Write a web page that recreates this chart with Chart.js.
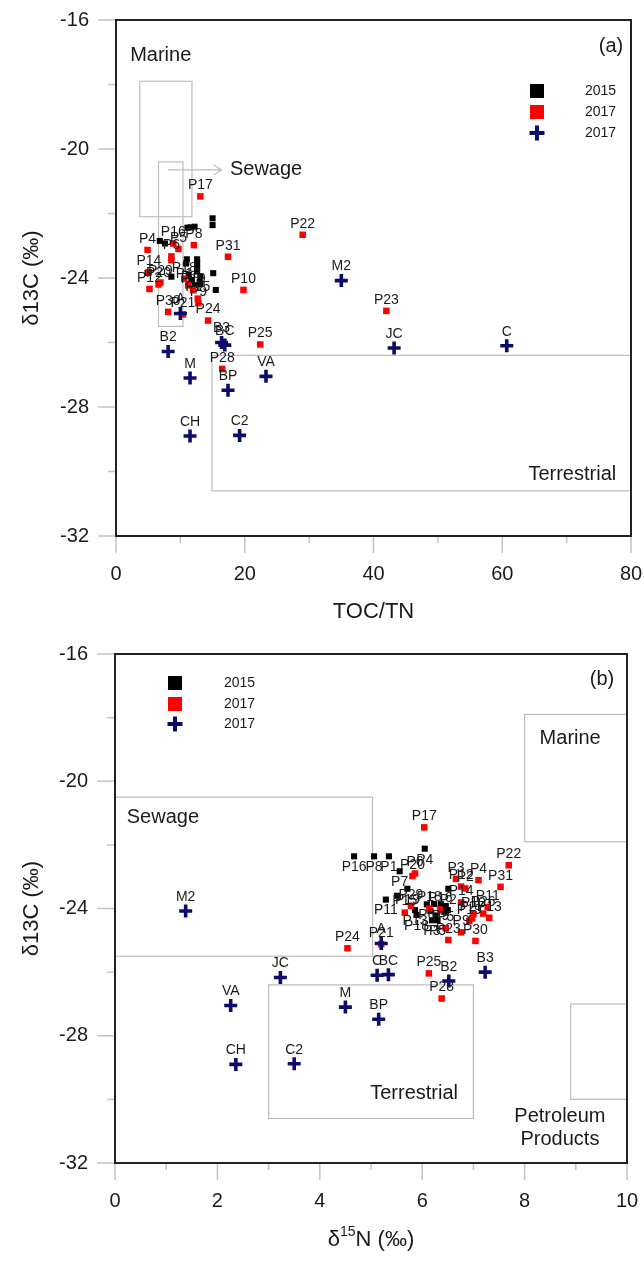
<!DOCTYPE html>
<html lang="en">
  <head>
    <meta charset="utf-8" />
    <title>Sediment δ13C sources</title>
    <style>
      body { margin: 0; background: #fff; }
      canvas { display: block; }
    </style>
  </head>
  <body>
    <canvas id="chart-a" width="644" height="630"></canvas>
    <canvas id="chart-b" width="644" height="632"></canvas>

    <script src="https://cdn.jsdelivr.net/npm/chart.js@4.4.0/dist/chart.umd.min.js"></script>
    <script>
      // tick labels
      const yTicks = [-16, -20, -24, -28, -32];
      const xTicksA = [0, 20, 40, 60, 80];
      const xTicksB = [0, 2, 4, 6, 8, 10];

      // (a) 2015 sediments: TOC/TN and d13C
      const sed2015TocTn = [11.1, 11.6, 12.2, 15.0, 15.0, 6.8, 7.6, 11.0, 12.6, 12.6, 12.6, 12.6, 15.1, 4.9, 8.6, 11.3, 11.7, 13.0, 15.5, 13.1, 10.9, 12.2, 13.1];
      const sed2015D13cA = [-22.44, -22.43, -22.41, -22.15, -22.36, -22.85, -22.93, -23.42, -23.42, -23.55, -23.68, -23.8, -23.85, -23.84, -23.96, -23.9, -24.06, -24.12, -24.37, -23.95, -23.55, -24.22, -24.19];

      // (a) 2017 sediments
      const sed2017NamesA = ["P17", "P22", "P16", "P8", "P5", "P4", "P31", "P6", "", "P14", "P29", "P20", "P12", "P18", "P13", "P19", "P15", "P9", "P10", "P30", "P21", "P24", "P23", "P25", "P28"];
      const sed2017TocTn = [13.1, 29.0, 8.9, 12.1, 9.7, 4.9, 17.4, 8.6, 8.6, 5.1, 6.9, 6.6, 5.2, 10.6, 11.2, 12.0, 12.7, 12.8, 19.8, 8.1, 10.4, 14.3, 42.0, 22.4, 16.5];
      const sed2017D13cA = [-21.47, -22.66, -22.93, -22.98, -23.1, -23.13, -23.34, -23.33, -23.45, -23.82, -24.14, -24.2, -24.34, -24.02, -24.23, -24.38, -24.64, -24.78, -24.37, -25.05, -25.13, -25.32, -25.02, -26.06, -26.82];

      // (b) 2015 sediments: d15N and d13C
      const sed2015NamesB = ["P16", "P8", "P1", "P4", "P7", "P19", "", "P11", "P2", "P6", "", "P9", "", "P13", "P18", "", "P5", "", "", "P3", ""];
      const sed2015D15n = [4.67, 5.06, 5.35, 6.05, 5.56, 5.71, 5.51, 5.29, 6.51, 6.09, 6.23, 6.36, 6.46, 5.86, 5.89, 6.26, 6.3, 6.43, 6.16, 6.19, 6.5];
      const sed2015D13cB = [-22.36, -22.36, -22.36, -22.12, -22.83, -23.38, -23.6, -23.72, -23.38, -23.87, -23.86, -23.88, -23.92, -24.05, -24.2, -24.22, -24.37, -24.1, -24.08, -24.37, -24.05];

      // (b) 2017 sediments
      const sed2017NamesB = ["P17", "P22", "P31", "P4", "P3", "P12", "P2", "P6", "P20", "P14", "P11", "P10", "P26", "P13", "P27", "P19", "P15", "P29", "P18", "P16", "P5", "P9", "P23", "P30", "P24", "P21", "P25", "P28"];
      const sed2017D15n = [6.04, 7.69, 7.53, 7.1, 6.66, 6.76, 6.84, 5.86, 5.81, 6.76, 7.28, 7.0, 7.19, 7.31, 6.97, 6.92, 5.66, 5.78, 6.14, 6.35, 6.46, 6.76, 6.51, 7.04, 4.54, 5.2, 6.13, 6.38];
      const sed2017D13cB = [-21.45, -22.64, -23.32, -23.11, -23.07, -23.31, -23.37, -22.9, -22.98, -23.81, -23.96, -24.18, -24.16, -24.29, -24.31, -24.39, -24.13, -23.92, -24.0, -24.03, -24.62, -24.75, -24.99, -25.02, -25.25, -25.12, -26.04, -26.83];

      // 2017 source samples (both panels)
      const srcNames = ["M2", "JC", "C", "B2", "B3", "BC", "M", "VA", "BP", "CH", "C2", "A"];
      const srcTocTn = [35.0, 43.2, 60.7, 8.1, 16.4, 16.9, 11.5, 23.3, 17.4, 11.5, 19.2, 10.0];
      const srcD15n = [1.38, 3.23, 5.12, 6.52, 7.23, 5.34, 4.5, 2.26, 5.15, 2.36, 3.5, 5.2];
      const srcD13c = [-24.08, -26.17, -26.1, -26.28, -26.0, -26.08, -27.1, -27.05, -27.48, -28.9, -28.88, -25.1];

      // end-member boxes, in axis units
      const regionsA = [
        { x: [3.7, 11.8], y: [-17.9, -22.1] },
        { x: [6.6, 10.4], y: [-20.4, -25.5] },
        { x: [14.9, 80], y: [-26.4, -30.6] },
      ];
      const regionsB = [
        { x: [0, 5.03], y: [-20.5, -25.5] },
        { x: [8, 10], y: [-17.9, -21.9] },
        { x: [3, 7], y: [-26.4, -30.6] },
        { x: [8.9, 10], y: [-27, -30] },
      ];
      const notesA = [
        { text: "Marine", x: 2.2, y: -17.1, align: "left" },
        { text: "Sewage", x: 17.7, y: -20.65, align: "left" },
        { text: "Terrestrial", x: 77.7, y: -30.1, align: "right" },
        { text: "(a)", x: 78.8, y: -16.82, align: "right" },
      ];
      const notesB = [
        { text: "Sewage", x: 0.23, y: -21.13, align: "left" },
        { text: "Marine", x: 8.89, y: -18.67, align: "center" },
        { text: "Terrestrial", x: 6.7, y: -29.8, align: "right" },
        { text: "Petroleum", x: 8.69, y: -30.53, align: "center" },
        { text: "Products", x: 8.69, y: -31.25, align: "center" },
        { text: "(b)", x: 9.75, y: -16.79, align: "right" },
      ];

      const FONT = "'Liberation Sans', Arial, sans-serif";
      const INK = "#1a1a1a";
      const NAVY = "#0c0c6a";
      const TICK_GRAY = "#c4c4c4";
      const BOX_GRAY = "#bdbdbd";

      function pts(xs, ys) {
        return xs.map((v, i) => ({ x: v, y: ys[i] }));
      }

      function drawCross(ctx, x, y, r, w) {
        ctx.save();
        ctx.strokeStyle = NAVY;
        ctx.lineWidth = w;
        ctx.beginPath();
        ctx.moveTo(x - r, y); ctx.lineTo(x + r, y);
        ctx.moveTo(x, y - r); ctx.lineTo(x, y + r);
        ctx.stroke();
        ctx.restore();
      }

      const decor = {
        id: "decor",
        beforeDatasetsDraw(chart, args, opts) {
          const { ctx, scales: { x, y } } = chart;
          ctx.save();
          ctx.strokeStyle = BOX_GRAY;
          ctx.lineWidth = 1.2;
          opts.regions.forEach((r) => {
            const x0 = x.getPixelForValue(r.x[0]), x1 = x.getPixelForValue(r.x[1]);
            const y0 = y.getPixelForValue(r.y[0]), y1 = y.getPixelForValue(r.y[1]);
            ctx.strokeRect(Math.min(x0, x1), Math.min(y0, y1), Math.abs(x1 - x0), Math.abs(y1 - y0));
          });
          if (opts.arrow) {
            const a = opts.arrow;
            const ax0 = x.getPixelForValue(a.x[0]), ax1 = x.getPixelForValue(a.x[1]), ay = y.getPixelForValue(a.y);
            ctx.beginPath();
            ctx.moveTo(ax0, ay); ctx.lineTo(ax1, ay);
            ctx.moveTo(ax1 - 8, ay - 5); ctx.lineTo(ax1, ay); ctx.lineTo(ax1 - 8, ay + 5);
            ctx.stroke();
          }
          // region names
          ctx.fillStyle = INK;
          ctx.font = "20px " + FONT;
          ctx.textBaseline = "middle";
          opts.notes.forEach((n) => {
            ctx.textAlign = n.align;
            ctx.fillText(n.text, x.getPixelForValue(n.x), y.getPixelForValue(n.y));
          });
          ctx.restore();
        },
        afterDatasetsDraw(chart, args, opts) {
          const { ctx, chartArea: a, scales: { x, y } } = chart;
          ctx.save();
          // point labels
          ctx.font = "14px " + FONT;
          ctx.fillStyle = INK;
          ctx.textAlign = "center";
          ctx.textBaseline = "middle";
          chart.data.datasets.forEach((ds, i) => {
            if (!ds.names) return;
            chart.getDatasetMeta(i).data.forEach((el, j) => {
              if (ds.names[j]) ctx.fillText(ds.names[j], el.x, el.y + ds.labelDy);
            });
          });

          // ticks outside the frame
          ctx.strokeStyle = TICK_GRAY;
          ctx.lineWidth = 1.5;
          ctx.beginPath();
          for (let v = y.min; v <= y.max; v += 2) {
            const py = y.getPixelForValue(v);
            const len = (v % 4 === 0) ? 18 : 8;
            ctx.moveTo(a.left - len, py); ctx.lineTo(a.left, py);
          }
          for (let v = x.min; v <= x.max + 1e-9; v += opts.xMinor) {
            const px = x.getPixelForValue(v);
            const major = Math.abs(v / (opts.xMinor * 2) - Math.round(v / (opts.xMinor * 2))) < 1e-6;
            ctx.moveTo(px, a.bottom); ctx.lineTo(px, a.bottom + (major ? 17 : 7));
          }
          ctx.stroke();

          // frame
          ctx.strokeStyle = "#222";
          ctx.lineWidth = 2;
          ctx.strokeRect(a.left, a.top, a.right - a.left, a.bottom - a.top);

          // legend
          const lg = opts.legend;
          ctx.fillStyle = "#000";
          ctx.fillRect(lg.x - 7, lg.y[0] - 7, 14, 14);
          ctx.fillStyle = "#ff0000";
          ctx.fillRect(lg.x - 7, lg.y[1] - 7, 14, 14);
          drawCross(ctx, lg.x, lg.y[2], 7.5, 4);
          ctx.fillStyle = INK;
          ctx.font = "14px " + FONT;
          ctx.textAlign = "left";
          ["2015", "2017", "2017"].forEach((t, k) => ctx.fillText(t, lg.textX, lg.y[k]));
          ctx.restore();
        },
        afterDraw(chart, args, opts) {
          const { ctx, chartArea: a } = chart;
          const midX = (a.left + a.right) / 2, midY = (a.top + a.bottom) / 2;
          ctx.save();
          ctx.fillStyle = INK;
          ctx.textBaseline = "middle";
          // y title
          ctx.translate(32, midY);
          ctx.rotate(-Math.PI / 2);
          ctx.font = "22px " + FONT;
          ctx.textAlign = "center";
          ctx.fillText("δ13C (‰)", 0, 0);
          ctx.setTransform(1, 0, 0, 1, 0, 0);
          // x title, with optional superscript part
          const t = opts.xTitle;
          const big = "22px " + FONT, small = "14px " + FONT;
          ctx.font = big;
          const w0 = ctx.measureText(t[0]).width, w2 = ctx.measureText(t[2]).width;
          ctx.font = small;
          const w1 = ctx.measureText(t[1]).width;
          let cx = midX - (w0 + w1 + w2) / 2;
          ctx.textAlign = "left";
          ctx.font = big;
          ctx.fillText(t[0], cx, opts.xTitleY);
          cx += w0;
          ctx.font = small;
          ctx.fillText(t[1], cx, opts.xTitleY - 8);
          cx += w1;
          ctx.font = big;
          ctx.fillText(t[2], cx, opts.xTitleY);
          ctx.restore();
        },
      };

      function makeScales(xTicks, yWidth, xHeight) {
        const tickFont = { family: FONT, size: 20 };
        return {
          x: {
            type: "linear",
            min: xTicks[0],
            max: xTicks[xTicks.length - 1],
            afterBuildTicks: (s) => { s.ticks = xTicks.map((v) => ({ value: v })); },
            afterFit: (s) => {
              s.height = xHeight;
              s.paddingLeft = 0;
              s.paddingRight = 0;
            },
            grid: { display: false, drawTicks: false },
            border: { display: false },
            ticks: { padding: 26, font: tickFont, color: INK, maxRotation: 0 },
          },
          y: {
            type: "linear",
            min: yTicks[yTicks.length - 1],
            max: yTicks[0],
            afterBuildTicks: (s) => { s.ticks = yTicks.map((v) => ({ value: v })); },
            afterFit: (s) => {
              s.width = yWidth;
              s.paddingTop = 0;
              s.paddingBottom = 0;
            },
            grid: { display: false, drawTicks: false },
            border: { display: false },
            ticks: { padding: 27, font: tickFont, color: INK },
          },
        };
      }

      function datasets(blackPts, blackNames, blackDy, redPts, redNames, crossPts) {
        return [
          { data: crossPts, names: srcNames, labelDy: -14, pointStyle: "cross", pointRadius: 6.5, borderColor: NAVY, borderWidth: 3.6, order: 1 },
          { data: redPts, names: redNames, labelDy: -11, pointStyle: "rect", pointRadius: 4.6, backgroundColor: "#ff0000", borderWidth: 0, order: 2 },
          { data: blackPts, names: blackNames, labelDy: blackDy, pointStyle: "rect", pointRadius: 4.3, backgroundColor: "#000", borderWidth: 0, order: 3 },
        ];
      }

      const common = {
        responsive: false,
        animation: false,
        devicePixelRatio: 1,
      };

      new Chart(document.getElementById("chart-a"), {
        type: "scatter",
        data: {
          datasets: datasets(
            pts(sed2015TocTn, sed2015D13cA), null, 0,
            pts(sed2017TocTn, sed2017D13cA), sed2017NamesA,
            pts(srcTocTn, srcD13c)
          ),
        },
        options: {
          ...common,
          layout: { padding: { top: 20, right: 13, left: 0, bottom: 0 } },
          scales: makeScales(xTicksA, 116, 94),
          plugins: {
            legend: { display: false },
            tooltip: { enabled: false },
            decor: {
              regions: regionsA,
              notes: notesA,
              arrow: { x: [8.1, 16.4], y: -20.65 },
              xMinor: 10,
              legend: { x: 537, y: [91, 112, 133], textX: 585 },
              xTitle: ["TOC/TN", "", ""],
              xTitleY: 612,
            },
          },
        },
        plugins: [decor],
      });

      new Chart(document.getElementById("chart-b"), {
        type: "scatter",
        data: {
          datasets: datasets(
            pts(sed2015D15n, sed2015D13cB), sed2015NamesB, 11,
            pts(sed2017D15n, sed2017D13cB), sed2017NamesB,
            pts(srcD15n, srcD13c)
          ),
        },
        options: {
          ...common,
          layout: { padding: { top: 24, right: 17, left: 0, bottom: 0 } },
          scales: makeScales(xTicksB, 115, 99),
          plugins: {
            legend: { display: false },
            tooltip: { enabled: false },
            decor: {
              regions: regionsB,
              notes: notesB,
              arrow: null,
              xMinor: 1,
              legend: { x: 175, y: [53, 74, 94], textX: 224 },
              xTitle: ["δ", "15", "N (‰)"],
              xTitleY: 610,
            },
          },
        },
        plugins: [decor],
      });
    </script>
  </body>
</html>
